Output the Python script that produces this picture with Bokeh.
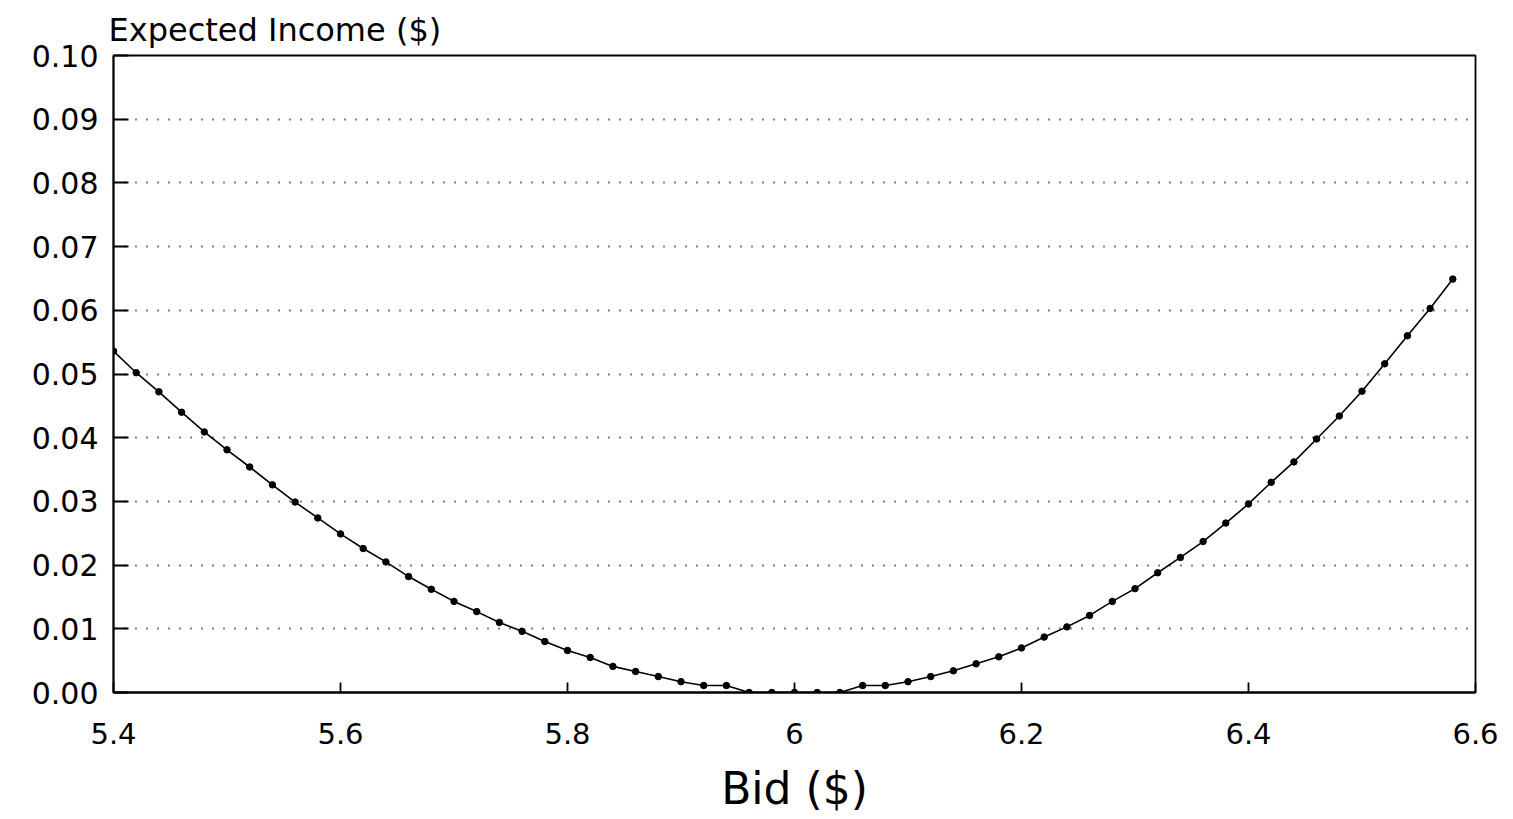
from bokeh.plotting import figure
from bokeh.models import FixedTicker, PrintfTickFormatter, CustomJSTickFormatter, Range1d
from bokeh.embed import file_html
from bokeh.resources import INLINE

bids = [5.40, 5.42, 5.44, 5.46, 5.48, 5.50, 5.52, 5.54, 5.56, 5.58,
        5.60, 5.62, 5.64, 5.66, 5.68, 5.70, 5.72, 5.74, 5.76, 5.78,
        5.80, 5.82, 5.84, 5.86, 5.88, 5.90, 5.92, 5.94, 5.96, 5.98,
        6.00, 6.02, 6.04, 6.06, 6.08, 6.10, 6.12, 6.14, 6.16, 6.18,
        6.20, 6.22, 6.24, 6.26, 6.28, 6.30, 6.32, 6.34, 6.36, 6.38,
        6.40, 6.42, 6.44, 6.46, 6.48, 6.50, 6.52, 6.54, 6.56, 6.58]

income = [0.0536, 0.0502, 0.0472, 0.0440, 0.0409, 0.0381, 0.0354, 0.0326, 0.0299, 0.0274,
          0.0249, 0.0226, 0.0205, 0.0182, 0.0162, 0.0143, 0.0127, 0.0110, 0.0096, 0.0080,
          0.0066, 0.0055, 0.0041, 0.0033, 0.0025, 0.0017, 0.0011, 0.0011, 0.0000, 0.0000,
          0.0000, 0.0000, 0.0000, 0.0011, 0.0011, 0.0017, 0.0025, 0.0034, 0.0045, 0.0056,
          0.0070, 0.0087, 0.0103, 0.0121, 0.0143, 0.0163, 0.0188, 0.0212, 0.0237, 0.0266,
          0.0296, 0.0330, 0.0362, 0.0398, 0.0434, 0.0473, 0.0516, 0.0560, 0.0603, 0.0649]

x_ticks = [5.4, 5.6, 5.8, 6.0, 6.2, 6.4, 6.6]
y_ticks = [0.00, 0.01, 0.02, 0.03, 0.04, 0.05, 0.06, 0.07, 0.08, 0.09, 0.10]

title_text = "Expected Income ($)"
x_label = "Bid ($)"

FONT = "DejaVu Sans"

p = figure(width=1505, height=816, output_backend="svg", toolbar_location=None,
           x_range=Range1d(5.4, 6.6), y_range=Range1d(0.0, 0.10),
           min_border_left=113, min_border_right=30, min_border_top=55, min_border_bottom=123,
           title=title_text)

p.background_fill_color = "white"
p.border_fill_color = "white"
p.outline_line_color = "black"
p.outline_line_width = 1.8

p.title.text_font = FONT
p.title.text_font_size = "32px"
p.title.text_font_style = "normal"
p.title.text_color = "black"
p.title.align = "left"
p.title.offset = -5
p.title.standoff = 14

# grid
p.xgrid.grid_line_color = None
p.ygrid.ticker = FixedTicker(ticks=y_ticks[1:-1])
p.ygrid.grid_line_color = "black"
p.ygrid.grid_line_width = 2
p.ygrid.grid_line_dash = "1 10"

# x axis
p.xaxis.ticker = FixedTicker(ticks=x_ticks)
p.xaxis.formatter = CustomJSTickFormatter(code="return String(Math.round(tick*10)/10);")
p.xaxis.axis_label = x_label
p.xaxis.axis_label_text_font = FONT
p.xaxis.axis_label_text_font_size = "44px"
p.xaxis.axis_label_text_font_style = "normal"
p.xaxis.axis_label_text_color = "black"
p.xaxis.axis_label_standoff = 16
p.xaxis.major_label_text_font = FONT
p.xaxis.major_label_text_font_size = "29px"
p.xaxis.major_label_text_color = "black"
p.xaxis.major_label_standoff = 30
p.xaxis.major_tick_in = 10
p.xaxis.major_tick_out = 0
p.xaxis.minor_tick_line_color = None
p.xaxis.major_tick_line_color = "black"
p.xaxis.major_tick_line_width = 1.8
p.xaxis.axis_line_color = "black"
p.xaxis.axis_line_width = 1.8

# y axis
p.yaxis.ticker = FixedTicker(ticks=y_ticks)
p.yaxis.formatter = PrintfTickFormatter(format="%.2f")
p.yaxis.major_label_text_font = FONT
p.yaxis.major_label_text_font_size = "30px"
p.yaxis.major_label_text_color = "black"
p.yaxis.major_label_standoff = 15
p.yaxis.major_tick_in = 15
p.yaxis.major_tick_out = 0
p.yaxis.minor_tick_line_color = None
p.yaxis.major_tick_line_color = "black"
p.yaxis.major_tick_line_width = 1.8
p.yaxis.axis_line_color = "black"
p.yaxis.axis_line_width = 1.8

p.line(bids, income, line_color="black", line_width=1.6)
p.scatter(bids, income, size=6.5, fill_color="black", line_color="black")

open("out.html", "w").write(file_html(p, INLINE))
